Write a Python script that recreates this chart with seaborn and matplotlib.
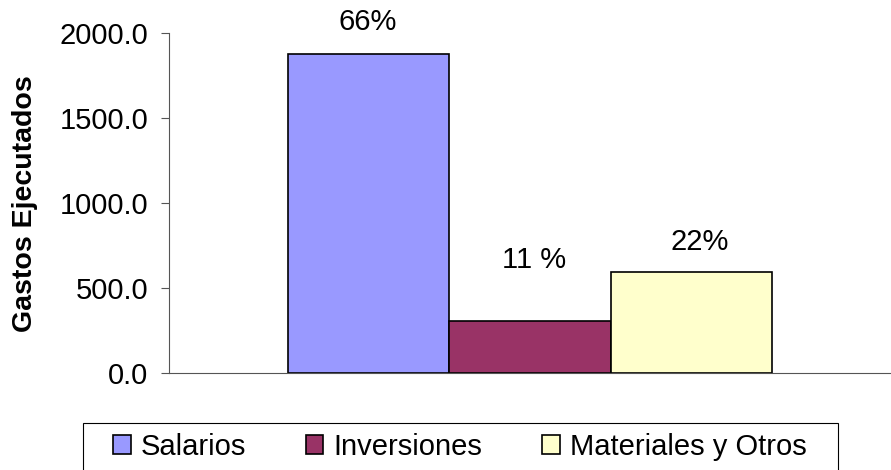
"""
    gastos ejecutados bar chart
"""

import pandas as pd
import matplotlib.pyplot as plt
import matplotlib.patches as mpatches
import seaborn as sns

categorias = ['Salarios', 'Inversiones', 'Materiales y Otros']
gastos = [1877.0, 309.0, 595.0]
etiquetas = ['66%', '11 %', '22%']
colores = ['#9999FF', '#993366', '#FFFFCC']
# label offsets (points) from the top centre of each bar
offsets = [(-1, 23), (3, 44), (6, 22)]


def create_bar():
    """Bar chart of executed expenses by type"""
    sns.set_style('white')
    plt.rcParams['font.family'] = ['Liberation Sans', 'DejaVu Sans']
    for key in ['text.color', 'axes.labelcolor', 'xtick.color', 'ytick.color']:
        plt.rcParams[key] = 'black'

    df = pd.DataFrame({'grupo': [''] * len(categorias),
                       'categoria': categorias,
                       'gastos': gastos})

    fig = plt.figure(figsize=(8.91, 4.70), dpi=100)
    ax = fig.add_axes([169 / 891, 1 - 373.3 / 470, 722 / 891, 340.3 / 470])

    sns.barplot(data=df, x='grupo', y='gastos', hue='categoria',
                hue_order=categorias, palette=colores, width=0.67,
                edgecolor='black', linewidth=1.2, saturation=1, ax=ax)

    ax.set_xlim(-0.5, 0.5)
    ax.set_ylim(0, 2000)
    ax.set_xticks([])
    ax.set_yticks([0, 500, 1000, 1500, 2000])
    ax.set_yticklabels([f'{v:.1f}' for v in ax.get_yticks()], fontsize=21)
    ax.tick_params(axis='y', direction='out', length=6, width=0.8,
                   color='#555555', pad=9, left=True)
    ax.set_xlabel('')
    ax.set_ylabel('Gastos Ejecutados', fontsize=20.5, fontweight='bold')
    ax.yaxis.set_label_coords(-0.181, 0.5)

    for side in ['top', 'right']:
        ax.spines[side].set_visible(False)
    for side in ['left', 'bottom']:
        ax.spines[side].set_color('#555555')
        ax.spines[side].set_linewidth(0.8)

    for cont, txt, off in zip(ax.containers, etiquetas, offsets):
        bar = cont.patches[0]
        ax.annotate(txt, xy=(bar.get_x() + bar.get_width() / 2, bar.get_height()),
                    xytext=off, textcoords='offset points',
                    ha='center', va='center', fontsize=21)

    handles, labels = ax.get_legend_handles_labels()
    ax.legend_.remove()
    leg = fig.legend(handles, labels, loc='upper left',
                     bbox_to_anchor=(113 / 891, 1 - 433 / 470),
                     ncol=3, frameon=False, fontsize=21, borderpad=0,
                     handlelength=0.6, handleheight=0.6, handletextpad=0.35,
                     columnspacing=2.05, borderaxespad=0)
    for h in leg.legend_handles:
        h.set_edgecolor('black')
        h.set_linewidth(1.2)

    frame = mpatches.Rectangle((82.7 / 891, -0.05), (838 - 82.7) / 891,
                               1 - 423 / 470 + 0.05, transform=fig.transFigure,
                               fill=False, edgecolor='black', linewidth=0.8)
    fig.patches.append(frame)

    plt.savefig('out.png', dpi=100)


create_bar()
